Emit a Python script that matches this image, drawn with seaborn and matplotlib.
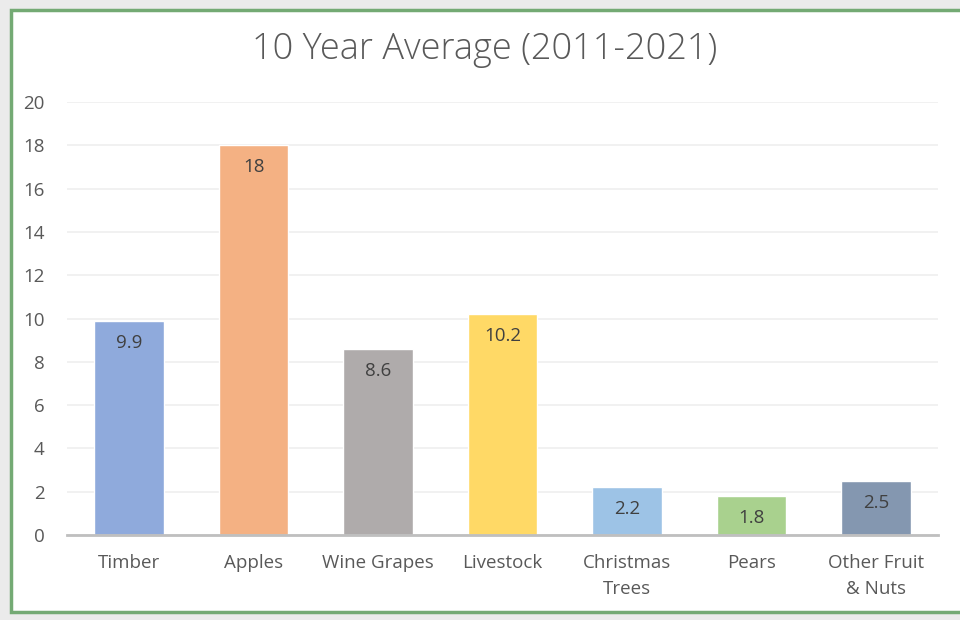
import matplotlib
matplotlib.use('Agg')
import matplotlib.pyplot as plt
import seaborn as sns
import pandas as pd
from matplotlib.patches import Rectangle

# ------------------------
# Data
# ------------------------

categories = ['Timber', 'Apples', 'Wine Grapes', 'Livestock',
              'Christmas\nTrees', 'Pears', 'Other Fruit\n& Nuts']
values = [9.9, 18, 8.6, 10.2, 2.2, 1.8, 2.5]
labels = ['9.9', '18', '8.6', '10.2', '2.2', '1.8', '2.5']
colors = ['#8FAADC', '#F4B183', '#AFABAB', '#FFD966', '#9DC3E6', '#A9D18E', '#8497B0']
yticks = [0, 2, 4, 6, 8, 10, 12, 14, 16, 18, 20]

df = pd.DataFrame({'category': categories, 'value': values})

sns.set_style('white')
plt.rcParams['font.family'] = ['Open Sans', 'DejaVu Sans']

fig = plt.figure(figsize=(9.6, 6.2), dpi=100)
fig.patch.set_facecolor('#EBEBEB')

# chart frame (white area with green border)
frame = Rectangle((11 / 960, 1 - 612 / 620), 1.0, (612 - 10) / 620,
                  transform=fig.transFigure, facecolor='white',
                  edgecolor='#74AA74', linewidth=2.5, zorder=-1)
fig.patches.append(frame)

ax = fig.add_axes([67 / 960, 1 - 535 / 620, (938 - 67) / 960, (535 - 102) / 620])
ax.set_facecolor('none')

sns.barplot(data=df, x='category', y='value', hue='category', palette=colors,
            legend=False, width=0.56, saturation=1, ax=ax, zorder=3)

ax.set_ylim(0, 20)
ax.set_yticks(yticks)
ax.set_xlim(-0.5, len(categories) - 0.5)
ax.grid(axis='y', color='#EFEFEF', linewidth=1.2, zorder=0)
ax.set_axisbelow(True)
for side in ['left', 'right', 'top']:
    ax.spines[side].set_visible(False)
ax.spines['bottom'].set_color('#BFBFBF')
ax.spines['bottom'].set_linewidth(2)
ax.spines['bottom'].set_zorder(4)
ax.tick_params(axis='both', length=0, colors='#595959', labelsize=13.5)
ax.tick_params(axis='x', pad=14)
ax.tick_params(axis='y', pad=16)
ax.set_xlabel('')
ax.set_ylabel('')
for lab in ax.get_xticklabels():
    lab.set_linespacing(1.55)

# data labels inside top of bars
for i, (v, t) in enumerate(zip(values, labels)):
    ax.text(i, v - 0.6, t, ha='center', va='top', fontsize=13.5,
            color='#404040', zorder=5)

fig.text(485 / 960, 1 - 50 / 620, '10 Year Average (2011-2021)', ha='center',
         va='center', fontsize=26, color='#595959', fontweight='light')

fig.savefig('out.png', dpi=100)
